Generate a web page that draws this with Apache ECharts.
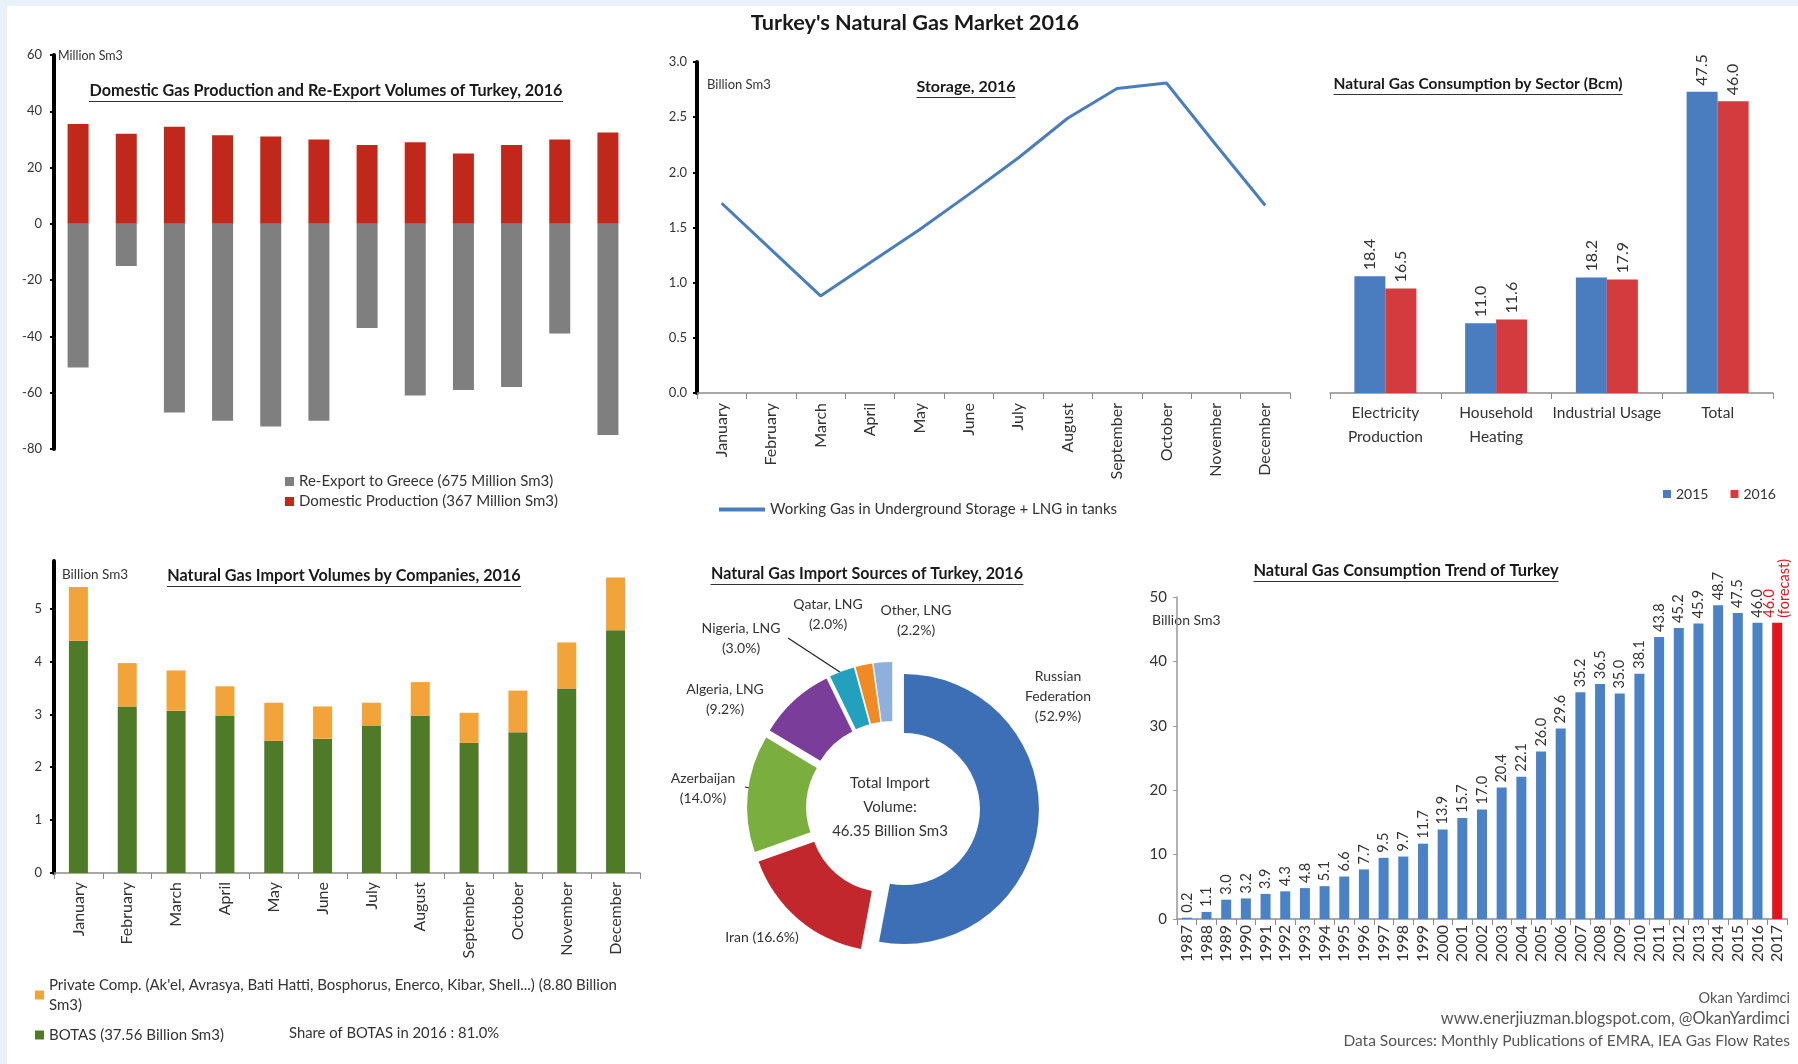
<!DOCTYPE html>
<html>
<head>
<meta charset="utf-8">
<title>Turkey's Natural Gas Market 2016</title>
<script src="https://cdn.jsdelivr.net/npm/echarts@6/dist/echarts.min.js"></script>
<style>
    html, body { margin: 0; padding: 0; background: #e9f2fb; }
    #main { width: 1798px; height: 1064px; }
</style>
</head>
<body>
<div id="main"></div>
<script>
var months = ['January', 'February', 'March', 'April', 'May', 'June', 'July',
    'August', 'September', 'October', 'November', 'December'];

// domestic production / re-export, Million Sm3
var reExport = [-51, -15, -67, -70, -72, -70, -37, -61, -59, -58, -39, -75];
var domestic = [35.5, 32, 34.5, 31.5, 31, 30, 28, 29, 25, 28, 30, 32.5];

// storage, Billion Sm3
var storage = [1.72, 1.30, 0.88, 1.18, 1.48, 1.80, 2.13, 2.49, 2.76, 2.81, 2.25, 1.70];

// consumption by sector, bcm
var sectors = ['Electricity\nProduction', 'Household\nHeating', 'Industrial Usage', 'Total'];
var sector2015 = [18.4, 11.0, 18.2, 47.5];
var sector2016 = [16.5, 11.6, 17.9, 46.0];

// imports by company, Billion Sm3
var botas = [4.39, 3.15, 3.07, 2.97, 2.50, 2.54, 2.78, 2.97, 2.46, 2.66, 3.49, 4.59];
var privateComp = [1.02, 0.82, 0.76, 0.56, 0.72, 0.61, 0.44, 0.64, 0.57, 0.79, 0.87, 1.00];

// import sources, %
var sourceNames = ['Russian\nFederation', 'Iran', 'Azerbaijan', 'Algeria, LNG', 'Nigeria, LNG', 'Qatar, LNG', 'Other, LNG'];
var sourceShares = [52.9, 16.6, 14.0, 9.2, 3.0, 2.0, 2.2];

// consumption trend, Billion Sm3
var years = ['1987', '1988', '1989', '1990', '1991', '1992', '1993', '1994', '1995', '1996',
    '1997', '1998', '1999', '2000', '2001', '2002', '2003', '2004', '2005', '2006',
    '2007', '2008', '2009', '2010', '2011', '2012', '2013', '2014', '2015', '2016', '2017'];
var consumption = [0.2, 1.1, 3.0, 3.2, 3.9, 4.3, 4.8, 5.1, 6.6, 7.7,
    9.5, 9.7, 11.7, 13.9, 15.7, 17.0, 20.4, 22.1, 26.0, 29.6,
    35.2, 36.5, 35.0, 38.1, 43.8, 45.2, 45.9, 48.7, 47.5, 46.0, 46.0];

var reExportName = 'Re-Export to Greece (675 Million Sm3)';
var domesticName = 'Domestic Production (367 Million Sm3)';
var storageName = 'Working Gas in Underground Storage + LNG in tanks';
var privateName = "Private Comp. (Ak'el, Avrasya, Bati Hatti, Bosphorus, Enerco, Kibar, Shell...) (8.80 Billion Sm3)";
var botasName = 'BOTAS (37.56 Billion Sm3)';

var sourceColors = ['#3c6fb6', '#c1272d', '#7aaf3f', '#7a3d9a', '#22a0be', '#f08a24', '#8fb0dc'];
// where the donut labels sit in the picture
var sourceLabelPos = [[1058, 696], [762, 937], [703, 788], [725, 699], [741, 638], [828, 614], [916, 620]];

var FONT = 'Lato, "Liberation Sans", sans-serif';
var TXT = '#333';

var measureCtx = document.createElement('canvas').getContext('2d');
function fitSize(text, weight, targetW) {
    measureCtx.font = weight + ' 100px Lato';
    return Math.round(1000 * targetW / measureCtx.measureText(text).width) / 10;
}

// underlined title fitted to the width it has in the picture
function panelTitle(text, cx, y, targetW) {
    var size = fitSize(text, 'bold', targetW);
    var uy = Math.round(y + size * 0.62) + 0.5;
    return [
        {type: 'text', x: cx, y: y, style: {text: text, fontFamily: FONT, fontSize: size, fontWeight: 'bold',
            fill: '#1a1a1a', align: 'center', verticalAlign: 'middle'}},
        {type: 'line', shape: {x1: cx - targetW / 2, y1: uy, x2: cx + targetW / 2, y2: uy},
            style: {stroke: '#333', lineWidth: 1}}
    ];
}

function plainText(text, x, y, size, align, color) {
    return {type: 'text', x: x, y: y, style: {text: text, fontFamily: FONT, fontSize: size,
        fill: color || TXT, align: align || 'left', verticalAlign: 'middle', lineHeight: 20}};
}

var chart = echarts.init(document.getElementById('main'));

var blackAxis = {
    axisLine: {show: true, lineStyle: {color: '#000', width: 4}},
    axisTick: {show: true, length: 4, lineStyle: {color: '#000', width: 2}},
    splitLine: {show: false}
};
var grayCat = {
    axisLine: {show: true, lineStyle: {color: '#8c8c8c', width: 1.5}},
    axisTick: {show: true, length: 6, lineStyle: {color: '#8c8c8c'}}
};

var graphics = [
    {type: 'rect', z: -10, shape: {x: 7, y: 6, width: 1791, height: 1058}, style: {fill: '#fff'}},
    {type: 'text', x: 915, y: 23, style: {text: "Turkey's Natural Gas Market 2016", fontFamily: FONT,
        fontSize: fitSize("Turkey's Natural Gas Market 2016", 'bold', 329), fontWeight: 'bold',
        fill: '#1a1a1a', align: 'center', verticalAlign: 'middle'}}
];
graphics = graphics
    .concat(panelTitle('Domestic Gas Production and Re-Export Volumes of Turkey, 2016', 326, 91, 474))
    .concat(panelTitle('Storage, 2016', 966, 87, 99))
    .concat(panelTitle('Natural Gas Consumption by Sector (Bcm)', 1478, 84, 289))
    .concat(panelTitle('Natural Gas Import Volumes by Companies, 2016', 344, 576, 354))
    .concat(panelTitle('Natural Gas Import Sources of Turkey, 2016', 867, 574, 313))
    .concat(panelTitle('Natural Gas Consumption Trend of Turkey', 1406, 571, 305));

// donut labels, one per slice
sourceNames.forEach(function (n, i) {
    var t = n + (n === 'Iran' ? ' ' : '\n') + '(' + sourceShares[i].toFixed(1) + '%)';
    graphics.push(plainText(t, sourceLabelPos[i][0], sourceLabelPos[i][1], 14, 'center'));
});

graphics.push(
    plainText('Million Sm3', 58, 56, 12.5),
    plainText('Billion Sm3', 707, 85, 13),
    plainText('Billion Sm3', 62, 575, 13.5),
    plainText('Billion Sm3', 1152, 620, 14),
    plainText('Share of BOTAS in 2016 : 81.0%', 289, 1033, fitSize('Share of BOTAS in 2016 : 81.0%', 'normal', 210)),
    {type: 'text', x: 890, y: 807, style: {text: 'Total Import\nVolume:\n46.35 Billion Sm3', fontFamily: FONT,
        fontSize: 15, lineHeight: 24, fill: TXT, align: 'center', verticalAlign: 'middle'}},
    {type: 'line', shape: {x1: 788, y1: 638, x2: 852, y2: 680}, style: {stroke: '#222', lineWidth: 1.2}},
    {type: 'line', shape: {x1: 745, y1: 787, x2: 778, y2: 794}, style: {stroke: '#222', lineWidth: 1.2}},
    plainText('Okan Yardimci', 1790, 998, 14.5, 'right', '#555'),
    plainText('www.enerjiuzman.blogspot.com, @OkanYardimci', 1790, 1019,
        fitSize('www.enerjiuzman.blogspot.com, @OkanYardimci', 'normal', 350), 'right', '#555'),
    plainText('Data Sources: Monthly Publications of EMRA, IEA Gas Flow Rates', 1790, 1041,
        fitSize('Data Sources: Monthly Publications of EMRA, IEA Gas Flow Rates', 'normal', 448), 'right', '#555')
);

var option = {
    animation: false,
    backgroundColor: '#e9f2fb',
    textStyle: {fontFamily: FONT},
    graphic: {elements: graphics},
    legend: [
        {data: [reExportName, domesticName], orient: 'vertical', left: 280, top: 469, icon: 'rect',
            itemWidth: 9, itemHeight: 9, itemGap: 5,
            textStyle: {fontSize: 15, color: TXT, fontFamily: FONT}},
        {data: [storageName], left: 714, top: 497, icon: 'rect', itemWidth: 46, itemHeight: 4,
            textStyle: {fontSize: 15, color: TXT, fontFamily: FONT}},
        {data: ['2015', '2016'], left: 1658, top: 482, icon: 'rect', itemWidth: 8, itemHeight: 8, itemGap: 22,
            textStyle: {fontSize: 14, color: TXT, fontFamily: FONT}},
        {data: [privateName, botasName], orient: 'vertical', left: 30, top: 970, icon: 'rect',
            itemWidth: 9, itemHeight: 9, itemGap: 10,
            formatter: function (name) {
                return name === privateName ? name.replace(/ Sm3\)$/, '\nSm3)') : name;
            },
            textStyle: {fontSize: 15, lineHeight: 20, color: TXT, fontFamily: FONT}}
    ],
    grid: [
        {left: 54, top: 55, width: 578, height: 394},
        {left: 697, top: 62, width: 593, height: 331},
        {left: 1330, top: 76, width: 443, height: 317},
        {left: 54, top: 561, width: 586, height: 312},
        {left: 1177, top: 597, width: 610, height: 322}
    ],
    xAxis: [
        {gridIndex: 0, type: 'category', data: months, show: false},
        Object.assign({gridIndex: 1, type: 'category', data: months,
            axisLabel: {rotate: 90, fontSize: 16, color: TXT, margin: 10, interval: 0}}, grayCat),
        Object.assign({gridIndex: 2, type: 'category', data: sectors,
            axisLabel: {fontSize: 15.5, lineHeight: 24, color: TXT, margin: 8, interval: 0}}, grayCat),
        Object.assign({gridIndex: 3, type: 'category', data: months,
            axisLabel: {rotate: 90, fontSize: 16, color: TXT, margin: 9, interval: 0}}, grayCat),
        Object.assign({gridIndex: 4, type: 'category', data: years,
            axisLabel: {rotate: 90, fontSize: 16, color: TXT, margin: 6, interval: 0}}, grayCat)
    ],
    yAxis: [
        Object.assign({gridIndex: 0, type: 'value', min: -80, max: 60, interval: 20,
            axisLabel: {fontSize: 13, color: TXT, margin: 12}}, blackAxis),
        Object.assign({gridIndex: 1, type: 'value', min: 0, max: 3, interval: 0.5,
            axisLabel: {fontSize: 13, color: TXT, margin: 10, formatter: function (v) { return v.toFixed(1); }}}, blackAxis),
        {gridIndex: 2, type: 'value', min: 0, max: 50, show: false},
        Object.assign({gridIndex: 3, type: 'value', min: 0, max: 5.9, interval: 1,
            axisLabel: {fontSize: 13, color: TXT, margin: 12, showMaxLabel: false}}, blackAxis),
        {gridIndex: 4, type: 'value', min: 0, max: 50, interval: 10,
            axisLine: {show: true, lineStyle: {color: '#999', width: 1.5}},
            axisTick: {show: true, length: 4, lineStyle: {color: '#999'}},
            splitLine: {show: false},
            axisLabel: {fontSize: 15, color: TXT, margin: 10}}
    ],
    series: [
        {name: reExportName, type: 'bar', xAxisIndex: 0, yAxisIndex: 0, data: reExport,
            barWidth: 21, barGap: '-100%', itemStyle: {color: '#7f7f7f'}},
        {name: domesticName, type: 'bar', xAxisIndex: 0, yAxisIndex: 0, data: domestic,
            barWidth: 21, barGap: '-100%', itemStyle: {color: '#c1281c'}},

        {name: storageName, type: 'line', xAxisIndex: 1, yAxisIndex: 1, data: storage,
            symbol: 'none', color: '#4a7ebb', lineStyle: {color: '#4a7ebb', width: 3}},

        {name: '2015', type: 'bar', xAxisIndex: 2, yAxisIndex: 2, data: sector2015,
            barWidth: 31, barGap: '0%', itemStyle: {color: '#4a7dc0'},
            label: {show: true, position: 'top', rotate: 90, align: 'left', verticalAlign: 'middle',
                distance: 6, fontSize: 16, color: TXT, formatter: function (p) { return p.value.toFixed(1); }}},
        {name: '2016', type: 'bar', xAxisIndex: 2, yAxisIndex: 2, data: sector2016,
            barWidth: 31, barGap: '0%', itemStyle: {color: '#d33b3f'},
            label: {show: true, position: 'top', rotate: 90, align: 'left', verticalAlign: 'middle',
                distance: 6, fontSize: 16, color: TXT, formatter: function (p) { return p.value.toFixed(1); }}},

        {name: botasName, type: 'bar', xAxisIndex: 3, yAxisIndex: 3, data: botas, stack: 'imports',
            barWidth: 19, itemStyle: {color: '#4f7a28'}},
        {name: privateName, type: 'bar', xAxisIndex: 3, yAxisIndex: 3, data: privateComp, stack: 'imports',
            barWidth: 19, itemStyle: {color: '#f2a43a'}},

        {name: 'Consumption', type: 'bar', xAxisIndex: 4, yAxisIndex: 4, barWidth: 10,
            data: consumption.map(function (v, i) {
                return i === consumption.length - 1
                    ? {value: v, itemStyle: {color: '#e3141b'}, label: {color: '#e3141b'}}
                    : v;
            }),
            itemStyle: {color: '#4a82c5'},
            label: {show: true, position: 'top', rotate: 90, align: 'left', verticalAlign: 'middle',
                distance: 5, fontSize: 14.5, color: TXT,
                formatter: function (p) {
                    var s = p.value.toFixed(1);
                    return p.dataIndex === consumption.length - 1 ? s + '\n(forecast)' : s;
                }}},

        {name: 'Import Sources', type: 'pie', center: [893, 808], radius: [76, 135],
            startAngle: 90, clockwise: true, selectedMode: 'multiple', selectedOffset: 11,
            emphasis: {disabled: true}, label: {show: false}, labelLine: {show: false},
            data: sourceNames.map(function (n, i) {
                return {name: n, value: sourceShares[i], selected: true, itemStyle: {color: sourceColors[i]}};
            })}
    ]
};

chart.setOption(option);
window.onresize = chart.resize;
</script>
</body>
</html>
